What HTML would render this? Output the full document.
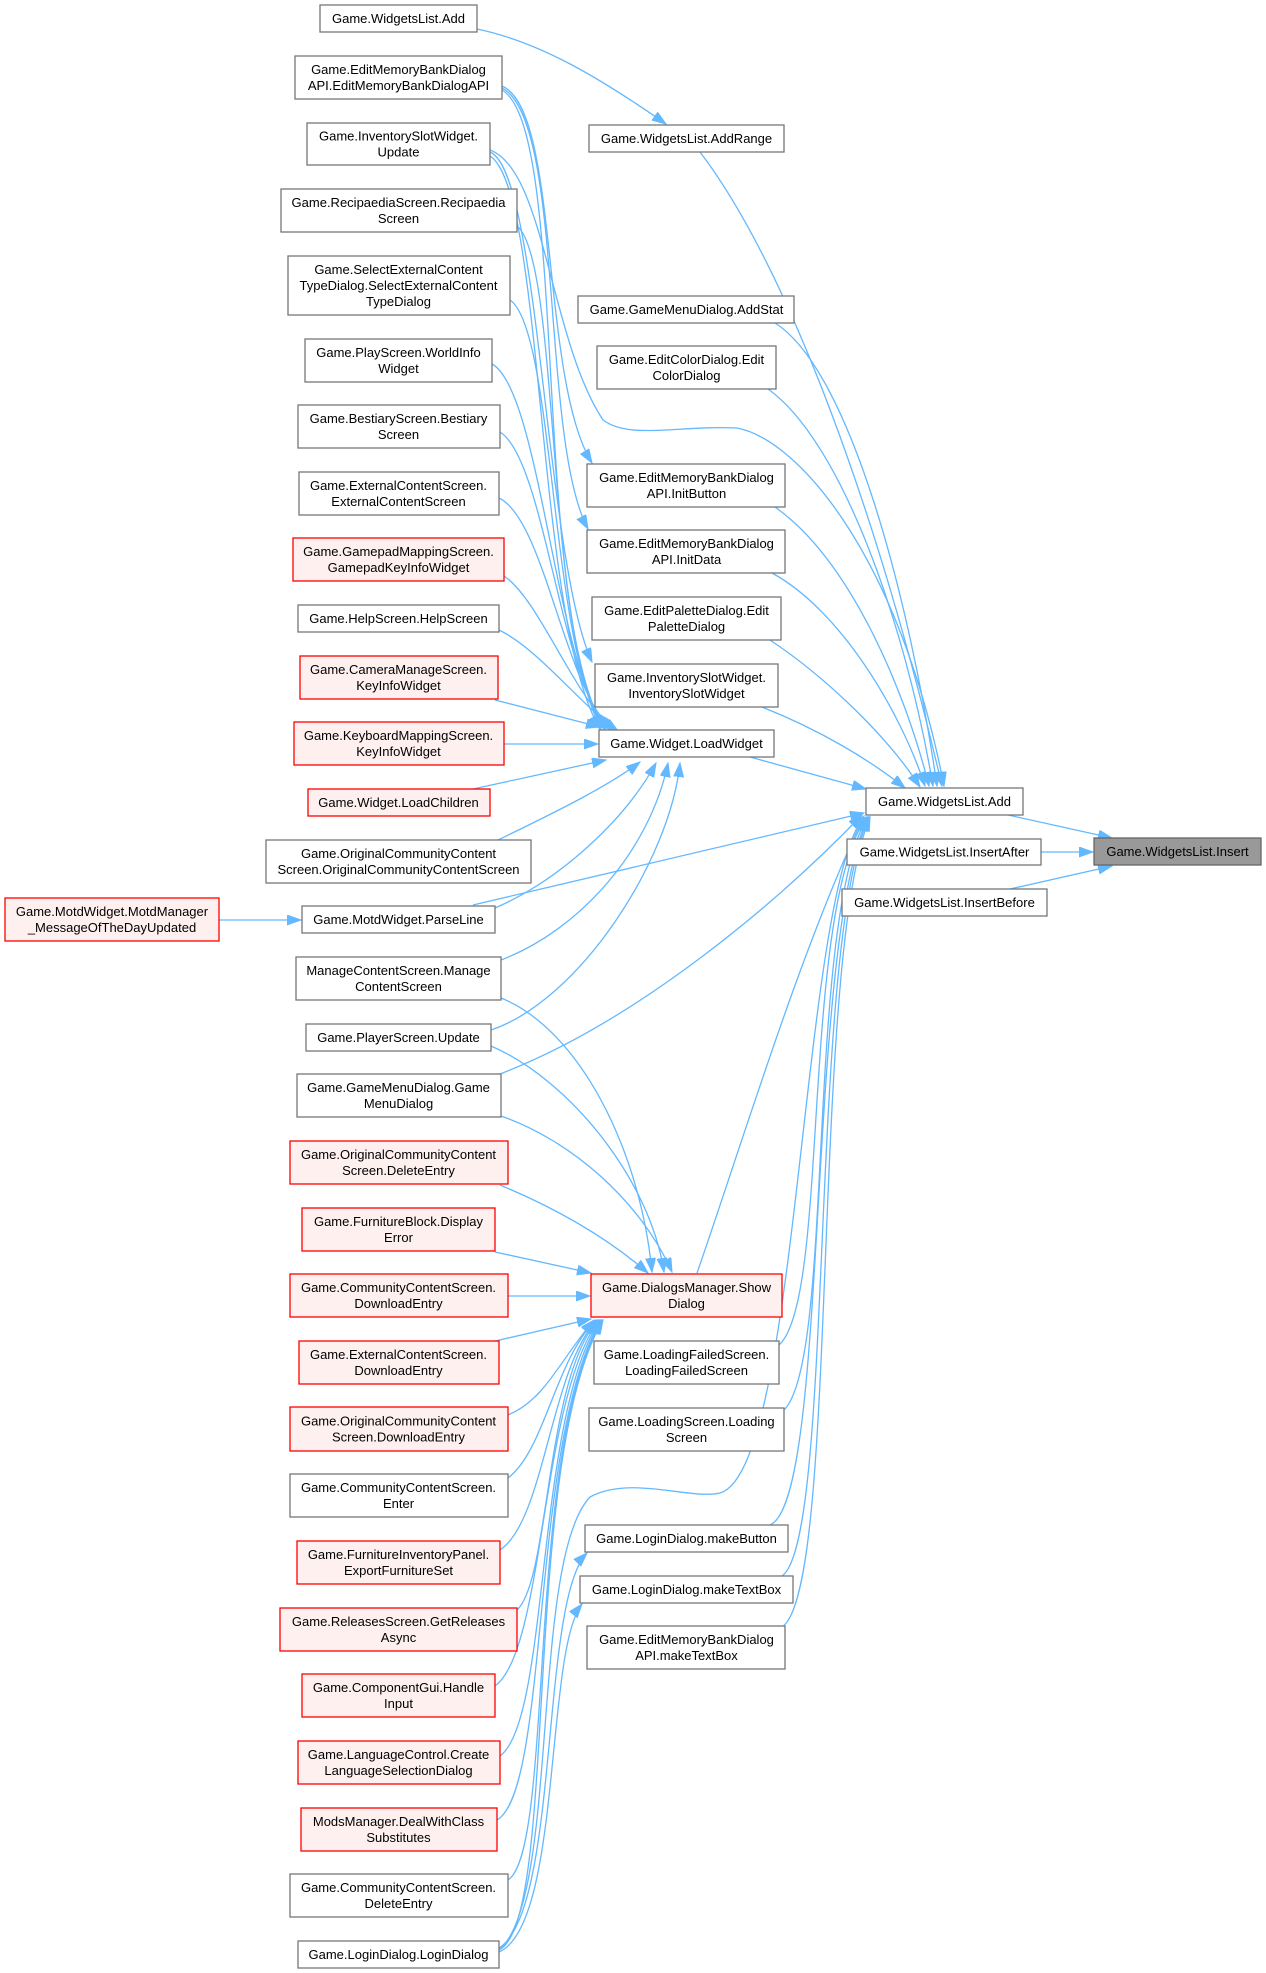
<!DOCTYPE html>
<html><head><meta charset="utf-8"><style>
html,body{margin:0;padding:0;background:#fff;}
svg{display:block;}
text{font-family:"Liberation Sans",Arial,sans-serif;font-size:13px;fill:#000;text-anchor:middle;}
.e{fill:none;stroke:#63b8ff;stroke-width:1.3;marker-end:url(#ah);}
.w{fill:#fff;stroke:#777;stroke-width:1.3;}
.r{fill:#fff0f0;stroke:#f00;stroke-width:1.3;}
.g{fill:#999;stroke:#666;stroke-width:1.3;}
</style></head><body>
<svg width="1266" height="1973" viewBox="0 0 1266 1973" xmlns="http://www.w3.org/2000/svg">
<defs><marker id="ah" markerUnits="userSpaceOnUse" markerWidth="15" markerHeight="11" refX="14" refY="5" orient="auto"><path d="M0,0 L14,5 L0,10 z" fill="#63b8ff" stroke="#63b8ff" stroke-width="1"/></marker></defs>

<!-- edges into Insert -->
<path class="e" d="M1008,815 L1112,838"/>
<path class="e" d="M1041,852 L1093,852"/>
<path class="e" d="M1010,889 L1112,866"/>
<path class="e" d="M219,920 L301,920"/>
<path class="e" d="M477,29 C540,42 600,78 666,124"/>

<!-- into WidgetsList.Add (col4) from above -->
<path class="e" d="M700,152 C790,270 880,520 942,786"/>
<path class="e" d="M775,323 C850,370 910,600 937,786"/>
<path class="e" d="M768,389 C840,440 905,620 933,786"/>
<path class="e" d="M775,507 C850,560 905,690 929,786"/>
<path class="e" d="M772,573 C840,610 900,710 925,786"/>
<path class="e" d="M770,640 C830,680 890,740 920,787"/>
<path class="e" d="M762,707 C820,730 870,760 905,788"/>
<path class="e" d="M750,757 L866,789"/>
<path class="e" d="M490,150 C545,170 550,340 603,420 C630,440 680,425 737,428 C800,440 900,560 944,786"/>

<!-- into WidgetsList.Add (col4) from below -->
<path class="e" d="M473,905 L864,813"/>
<path class="e" d="M500,1074 C640,1020 780,900 862,815"/>
<path class="e" d="M697,1273 C740,1150 800,950 864,816"/>
<path class="e" d="M779,1345 C830,1300 800,920 866,817"/>
<path class="e" d="M784,1410 C835,1360 805,930 867,817"/>
<path class="e" d="M770,1525 C830,1500 805,950 868,817"/>
<path class="e" d="M782,1576 C835,1540 808,950 869,817"/>
<path class="e" d="M782,1627 C840,1590 810,960 870,817"/>
<path class="e" d="M499,1950 C560,1900 530,1560 590,1497 C630,1475 690,1500 720,1493 C800,1470 800,900 864,816"/>

<!-- N2 edges -->
<path class="e" d="M502,86 C560,110 540,380 592,463"/>
<path class="e" d="M502,88 C565,120 540,440 588,529"/>
<path class="e" d="M502,90 C570,130 530,600 604,729"/>
<path class="e" d="M490,152 C540,172 545,560 592,662"/>
<path class="e" d="M490,156 C545,190 535,620 600,729"/>

<!-- into LoadWidget -->
<path class="e" d="M517,226 C560,260 545,620 601,729"/>
<path class="e" d="M510,300 C555,330 550,650 604,729"/>
<path class="e" d="M492,364 C540,390 555,660 606,729"/>
<path class="e" d="M500,432 C545,460 560,680 609,729"/>
<path class="e" d="M499,498 C545,520 565,690 612,729"/>
<path class="e" d="M504,576 C540,600 575,700 615,730"/>
<path class="e" d="M499,630 C540,650 580,705 618,731"/>
<path class="e" d="M495,700 L600,727"/>
<path class="e" d="M504,744 L598,744"/>
<path class="e" d="M473,789 L606,760"/>
<path class="e" d="M498,840 C560,810 610,785 640,762"/>
<path class="e" d="M495,908 C560,880 625,820 656,763"/>
<path class="e" d="M501,960 C580,930 650,850 668,763"/>
<path class="e" d="M491,1030 C580,1000 670,860 680,763"/>

<!-- into ShowDialog -->
<path class="e" d="M501,998 C580,1030 640,1150 652,1272"/>
<path class="e" d="M491,1046 C570,1080 650,1180 664,1272"/>
<path class="e" d="M501,1116 C570,1140 640,1200 672,1272"/>
<path class="e" d="M500,1185 C560,1210 610,1240 648,1273"/>
<path class="e" d="M495,1252 L591,1273"/>
<path class="e" d="M508,1296 L590,1296"/>
<path class="e" d="M495,1341 L591,1319"/>
<path class="e" d="M508,1415 C545,1400 560,1360 594,1320"/>
<path class="e" d="M508,1478 C545,1450 555,1360 596,1320"/>
<path class="e" d="M500,1550 C545,1520 550,1370 597,1320"/>
<path class="e" d="M517,1610 C550,1580 545,1380 598,1320"/>
<path class="e" d="M495,1686 C545,1650 540,1400 599,1320"/>
<path class="e" d="M500,1756 C550,1720 535,1420 600,1320"/>
<path class="e" d="M497,1820 C550,1790 530,1440 601,1320"/>
<path class="e" d="M508,1880 C555,1850 525,1450 602,1320"/>
<path class="e" d="M499,1950 C560,1920 520,1460 603,1320"/>
<path class="e" d="M499,1948 C560,1910 540,1600 587,1553"/>
<path class="e" d="M499,1952 C562,1925 545,1650 582,1604"/>

<!-- nodes col1 -->
<rect class="r" x="5" y="898" width="214" height="43"/><text x="112" y="916">Game.MotdWidget.MotdManager</text><text x="112" y="932">_MessageOfTheDayUpdated</text>

<!-- col2 -->
<rect class="w" x="320" y="5" width="157" height="27"/><text x="398.5" y="23">Game.WidgetsList.Add</text>
<rect class="w" x="295" y="56" width="207" height="43"/><text x="398.5" y="74">Game.EditMemoryBankDialog</text><text x="398.5" y="90">API.EditMemoryBankDialogAPI</text>
<rect class="w" x="307" y="123" width="183" height="42"/><text x="398.5" y="140.5">Game.InventorySlotWidget.</text><text x="398.5" y="156.5">Update</text>
<rect class="w" x="281" y="189" width="236" height="43"/><text x="398.5" y="207">Game.RecipaediaScreen.Recipaedia</text><text x="398.5" y="223">Screen</text>
<rect class="w" x="288" y="256" width="222" height="59"/><text x="398.5" y="274">Game.SelectExternalContent</text><text x="398.5" y="290">TypeDialog.SelectExternalContent</text><text x="398.5" y="306">TypeDialog</text>
<rect class="w" x="305" y="339" width="187" height="43"/><text x="398.5" y="357">Game.PlayScreen.WorldInfo</text><text x="398.5" y="373">Widget</text>
<rect class="w" x="298" y="405" width="202" height="43"/><text x="398.5" y="423">Game.BestiaryScreen.Bestiary</text><text x="398.5" y="439">Screen</text>
<rect class="w" x="299" y="472" width="200" height="43"/><text x="398.5" y="490">Game.ExternalContentScreen.</text><text x="398.5" y="506">ExternalContentScreen</text>
<rect class="r" x="293" y="538" width="211" height="43"/><text x="398.5" y="556">Game.GamepadMappingScreen.</text><text x="398.5" y="572">GamepadKeyInfoWidget</text>
<rect class="w" x="298" y="605" width="201" height="27"/><text x="398.5" y="623">Game.HelpScreen.HelpScreen</text>
<rect class="r" x="300" y="656" width="198" height="43"/><text x="398.5" y="674">Game.CameraManageScreen.</text><text x="398.5" y="690">KeyInfoWidget</text>
<rect class="r" x="294" y="722" width="210" height="43"/><text x="398.5" y="740">Game.KeyboardMappingScreen.</text><text x="398.5" y="756">KeyInfoWidget</text>
<rect class="r" x="308" y="789" width="182" height="27"/><text x="398.5" y="807">Game.Widget.LoadChildren</text>
<rect class="w" x="266" y="840" width="265" height="43"/><text x="398.5" y="858">Game.OriginalCommunityContent</text><text x="398.5" y="874">Screen.OriginalCommunityContentScreen</text>
<rect class="w" x="302" y="906" width="193" height="27"/><text x="398.5" y="924">Game.MotdWidget.ParseLine</text>
<rect class="w" x="296" y="957" width="205" height="43"/><text x="398.5" y="975">ManageContentScreen.Manage</text><text x="398.5" y="991">ContentScreen</text>
<rect class="w" x="306" y="1024" width="185" height="27"/><text x="398.5" y="1042">Game.PlayerScreen.Update</text>
<rect class="w" x="297" y="1074" width="204" height="43"/><text x="398.5" y="1092">Game.GameMenuDialog.Game</text><text x="398.5" y="1108">MenuDialog</text>
<rect class="r" x="290" y="1141" width="218" height="43"/><text x="398.5" y="1159">Game.OriginalCommunityContent</text><text x="398.5" y="1175">Screen.DeleteEntry</text>
<rect class="r" x="302" y="1208" width="193" height="43"/><text x="398.5" y="1226">Game.FurnitureBlock.Display</text><text x="398.5" y="1242">Error</text>
<rect class="r" x="290" y="1274" width="218" height="43"/><text x="398.5" y="1292">Game.CommunityContentScreen.</text><text x="398.5" y="1308">DownloadEntry</text>
<rect class="r" x="299" y="1341" width="200" height="43"/><text x="398.5" y="1359">Game.ExternalContentScreen.</text><text x="398.5" y="1375">DownloadEntry</text>
<rect class="r" x="290" y="1407" width="218" height="44"/><text x="398.5" y="1425.5">Game.OriginalCommunityContent</text><text x="398.5" y="1441.5">Screen.DownloadEntry</text>
<rect class="w" x="290" y="1474" width="218" height="43"/><text x="398.5" y="1492">Game.CommunityContentScreen.</text><text x="398.5" y="1508">Enter</text>
<rect class="r" x="297" y="1541" width="203" height="43"/><text x="398.5" y="1559">Game.FurnitureInventoryPanel.</text><text x="398.5" y="1575">ExportFurnitureSet</text>
<rect class="r" x="280" y="1608" width="237" height="43"/><text x="398.5" y="1626">Game.ReleasesScreen.GetReleases</text><text x="398.5" y="1642">Async</text>
<rect class="r" x="302" y="1674" width="193" height="43"/><text x="398.5" y="1692">Game.ComponentGui.Handle</text><text x="398.5" y="1708">Input</text>
<rect class="r" x="298" y="1741" width="202" height="43"/><text x="398.5" y="1759">Game.LanguageControl.Create</text><text x="398.5" y="1775">LanguageSelectionDialog</text>
<rect class="r" x="301" y="1808" width="196" height="43"/><text x="398.5" y="1826">ModsManager.DealWithClass</text><text x="398.5" y="1842">Substitutes</text>
<rect class="w" x="290" y="1874" width="218" height="43"/><text x="398.5" y="1892">Game.CommunityContentScreen.</text><text x="398.5" y="1908">DeleteEntry</text>
<rect class="w" x="298" y="1941" width="201" height="27"/><text x="398.5" y="1959">Game.LoginDialog.LoginDialog</text>

<!-- col3 -->
<rect class="w" x="589" y="125" width="195" height="27"/><text x="686.5" y="143">Game.WidgetsList.AddRange</text>
<rect class="w" x="578" y="296" width="216" height="27"/><text x="686.5" y="314">Game.GameMenuDialog.AddStat</text>
<rect class="w" x="597" y="346" width="179" height="43"/><text x="686.5" y="364">Game.EditColorDialog.Edit</text><text x="686.5" y="380">ColorDialog</text>
<rect class="w" x="587" y="464" width="198" height="43"/><text x="686.5" y="482">Game.EditMemoryBankDialog</text><text x="686.5" y="498">API.InitButton</text>
<rect class="w" x="587" y="530" width="198" height="43"/><text x="686.5" y="548">Game.EditMemoryBankDialog</text><text x="686.5" y="564">API.InitData</text>
<rect class="w" x="592" y="597" width="189" height="43"/><text x="686.5" y="615">Game.EditPaletteDialog.Edit</text><text x="686.5" y="631">PaletteDialog</text>
<rect class="w" x="595" y="664" width="183" height="43"/><text x="686.5" y="682">Game.InventorySlotWidget.</text><text x="686.5" y="698">InventorySlotWidget</text>
<rect class="w" x="599" y="730" width="175" height="27"/><text x="686.5" y="748">Game.Widget.LoadWidget</text>
<rect class="r" x="591" y="1274" width="191" height="43"/><text x="686.5" y="1292">Game.DialogsManager.Show</text><text x="686.5" y="1308">Dialog</text>
<rect class="w" x="594" y="1341" width="185" height="43"/><text x="686.5" y="1359">Game.LoadingFailedScreen.</text><text x="686.5" y="1375">LoadingFailedScreen</text>
<rect class="w" x="589" y="1408" width="195" height="43"/><text x="686.5" y="1426">Game.LoadingScreen.Loading</text><text x="686.5" y="1442">Screen</text>
<rect class="w" x="585" y="1525" width="203" height="27"/><text x="686.5" y="1543">Game.LoginDialog.makeButton</text>
<rect class="w" x="580" y="1576" width="213" height="27"/><text x="686.5" y="1594">Game.LoginDialog.makeTextBox</text>
<rect class="w" x="587" y="1626" width="198" height="43"/><text x="686.5" y="1644">Game.EditMemoryBankDialog</text><text x="686.5" y="1660">API.makeTextBox</text>

<!-- col4 -->
<rect class="w" x="866" y="788" width="157" height="27"/><text x="944.5" y="806">Game.WidgetsList.Add</text>
<rect class="w" x="847" y="839" width="194" height="26"/><text x="944.5" y="856.5">Game.WidgetsList.InsertAfter</text>
<rect class="w" x="842" y="889" width="205" height="27"/><text x="944.5" y="907">Game.WidgetsList.InsertBefore</text>

<!-- col5 -->
<rect class="g" x="1094" y="838" width="167" height="27"/><text x="1177.5" y="856">Game.WidgetsList.Insert</text>
</svg>
</body></html>
